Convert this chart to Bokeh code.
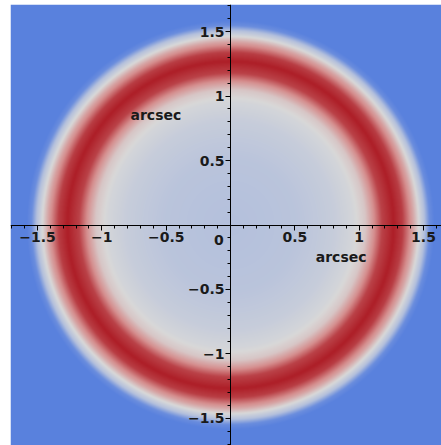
import numpy as np
from bokeh.plotting import figure
from bokeh.models import LinearColorMapper, FixedTicker, Label
from bokeh.embed import file_html
from bokeh.resources import INLINE

# radial brightness profile (radius in arcsec, level 0..1)
radius = [0.0, 0.5, 0.8, 0.95, 1.05, 1.11, 1.18, 1.27, 1.34, 1.42, 1.47, 1.51, 1.55, 1.59, 3.0]
level = [0.30, 0.33, 0.40, 0.47, 0.56, 0.72, 0.92, 1.00, 0.93, 0.68, 0.48, 0.30, 0.06, 0.0, 0.0]

# colour scale anchors (level -> colour)
cmap_pos = [0.0, 0.30, 0.50, 0.75, 1.0]
cmap_col = ["#5981dd", "#b4c0dc", "#d8d8d8", "#d58e8e", "#ae1f28"]

major_ticks = [-1.5, -1.0, -0.5, 0.5, 1.0, 1.5]
minor_ticks = [round(-1.7 + 0.1 * i, 1) for i in range(35)]
tick_labels = ["\u22121.5", "\u22121", "\u22120.5", "0.5", "1", "1.5"]

extent = 1.71

# build palette
def hex2rgb(h):
    return [int(h[i:i + 2], 16) for i in (1, 3, 5)]

rgbs = np.array([hex2rgb(c) for c in cmap_col], dtype=float)
t = np.linspace(0, 1, 256)
pal = []
for ti in t:
    r = np.interp(ti, cmap_pos, rgbs[:, 0])
    g = np.interp(ti, cmap_pos, rgbs[:, 1])
    b = np.interp(ti, cmap_pos, rgbs[:, 2])
    pal.append("#%02x%02x%02x" % (int(round(r)), int(round(g)), int(round(b))))

n = 440
xs = np.linspace(-extent, extent, n)
X, Y = np.meshgrid(xs, xs)
R = np.sqrt(X ** 2 + Y ** 2)
img = np.interp(R, radius, level)

p = figure(width=441, height=445, x_range=(-extent, 1.64), y_range=(-1.71, 1.71),
           output_backend="svg", toolbar_location=None,
           min_border_left=10, min_border_top=4, min_border_right=0, min_border_bottom=0)
p.outline_line_color = None
p.grid.visible = False

mapper = LinearColorMapper(palette=pal, low=0, high=1)
p.image(image=[img], x=-extent, y=-extent, dw=2 * extent, dh=2 * extent, color_mapper=mapper)

overrides = {tk: lab for tk, lab in zip(major_ticks, tick_labels)}
for ax in (p.xaxis[0], p.yaxis[0]):
    ax.fixed_location = 0
    ax.ticker = FixedTicker(ticks=major_ticks, minor_ticks=minor_ticks)
    ax.major_label_overrides = overrides
    ax.axis_line_color = "black"
    ax.axis_line_width = 1
    ax.major_tick_in = 0
    ax.major_tick_out = 5
    ax.minor_tick_in = 0
    ax.minor_tick_out = 3
    ax.major_label_text_font = "DejaVu Sans"
    ax.major_label_text_font_style = "bold"
    ax.major_label_text_font_size = "14px"
    ax.major_label_text_color = "#1a1a1a"
p.xaxis[0].major_label_standoff = 2
p.yaxis[0].major_label_standoff = 1

lab_kw = dict(text_font="DejaVu Sans", text_font_style="bold", text_font_size="14px",
              text_color="#1a1a1a", text_align="center", text_baseline="middle")
p.add_layout(Label(x=-0.09, y=-0.12, text="0", **lab_kw))
p.add_layout(Label(x=0.86, y=-0.25, text="arcsec", **lab_kw))
p.add_layout(Label(x=-0.58, y=0.85, text="arcsec", **lab_kw))

open("out.html", "w").write(file_html(p, INLINE))
